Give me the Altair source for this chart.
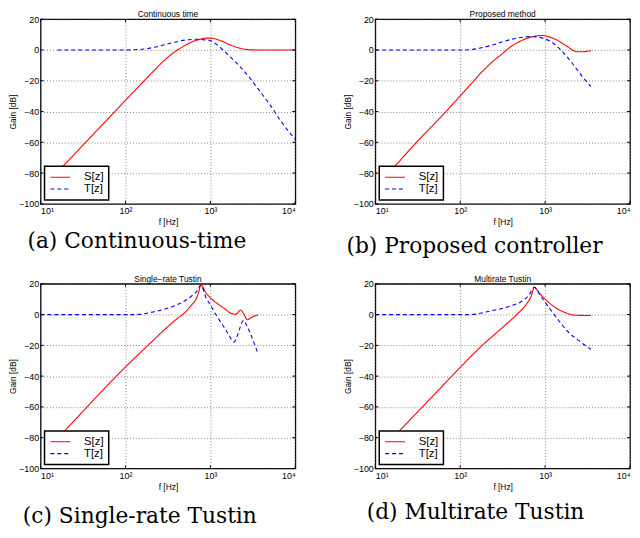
import altair as alt
import pandas as pd

# ---------------- data ----------------
series_names = ["S[z]", "T[z]"]
x_ticks = [10, 100, 1000, 10000]
y_ticks = [-100, -80, -60, -40, -20, 0, 20]

panel_titles = ["Continuous time", "Proposed method", "Single\u2212rate Tustin", "Multirate Tustin"]
panel_captions = ["(a) Continuous-time", "(b) Proposed controller",
                  "(c) Single-rate Tustin", "(d) Multirate Tustin"]

# (a) continuous time
a_S_f = [15.8, 18.4, 34, 75, 100, 166, 230, 287, 340, 410, 500, 585, 750, 900, 1000, 1328, 1730, 2258, 2945, 4000, 10000]
a_S_g = [-79.3, -75.5, -60.0, -40.0, -32.7, -20.0, -11.9, -6.7, -3.2, 0.0, 2.9, 4.9, 6.9, 7.7, 7.7, 6.0, 3.2, 1.1, 0.1, 0.0, 0.0]
a_T_f = [15.8, 100, 117, 184, 250, 343, 535, 700, 875, 1000, 1328, 1730, 2258, 2945, 3843, 5012, 6536, 8532, 10000]
a_T_g = [0, 0, 0.1, 1.0, 2.5, 4.5, 6.6, 7.0, 6.5, 6.0, 1.3, -4.7, -11.1, -18.5, -27.0, -35.5, -45.1, -53.6, -57.9]

# (b) proposed method
b_S_f = [11.0, 16.6, 30, 68, 100, 145, 173, 200, 225, 321, 351, 500, 714, 930, 1100, 1327, 1600, 1890, 2100, 2360, 2820, 3450]
b_S_g = [-85.8, -76.1, -60.5, -40.0, -29.8, -20.0, -15.2, -11.8, -9.0, -1.9, 0.0, 5.5, 8.7, 9.4, 8.6, 7.0, 4.3, 1.7, 0.0, -1.1, -1.1, -0.4]
b_T_f = [10, 116, 173, 250, 322, 547, 714, 930, 1160, 1517, 2066, 2700, 3450]
b_T_g = [0, 0, 1.3, 3.5, 5.5, 8.3, 8.7, 7.7, 5.5, 0.2, -8.3, -16.8, -23.7]

# (c) single-rate Tustin
c_S_f = [11.2, 18.8, 30, 50, 100, 184, 343, 420, 478, 530, 585, 700, 740, 770, 890, 1000, 1217, 1455, 1740, 1988, 2274, 2483, 2716, 3105, 3648]
c_S_g = [-89.0, -76.1, -64.2, -51.1, -34.0, -20.0, -6.0, -2.0, 0.3, 2.8, 5.5, 11.9, 16.0, 19.2, 14.0, 10.9, 7.0, 4.0, 0.9, 0.2, 3.0, 0.2, -3.4, -1.5, -0.2]
c_T_f = [10, 127, 219, 343, 490, 596, 700, 770, 890, 1018, 1217, 1455, 1663, 1900, 2000, 2173, 2376, 2480, 2600, 2972, 3398, 3648]
c_T_g = [0, 0, 1.9, 4.9, 8.7, 11.9, 15.5, 19.2, 10.9, 5.5, -1.9, -8.3, -13.6, -17.9, -16.0, -10.4, -4.5, -3.8, -5.7, -12.6, -21.0, -25.7]

# (d) multirate Tustin
d_S_f = [11.3, 18.9, 30, 50, 100, 173, 322, 459, 598, 684, 747, 853, 1064, 1327, 1730, 2260, 3450]
d_S_g = [-88.5, -76.0, -64.5, -51.7, -34.3, -21.1, -7.9, -0.2, 6.6, 11.9, 17.7, 14.0, 8.7, 4.5, 1.3, -0.4, -0.6]
d_T_f = [10, 133, 207, 384, 547, 653, 747, 891, 1113, 1452, 1890, 2466, 3450]
d_T_g = [0, 0, 1.9, 5.5, 9.1, 13.0, 17.7, 11.9, 4.5, -4.0, -11.5, -16.8, -22.5]

# ---------------- chart ----------------
W, H = 258, 187
TK = 3  # inward tick length
SUP = "datum.value == 10 ? '10\u00b9' : datum.value == 100 ? '10\u00b2' : datum.value == 1000 ? '10\u00b3' : '10\u2074'"
XS = alt.Scale(type="log", domain=[10, 10000], nice=False)
YS = alt.Scale(domain=[-100, 20], nice=False)


def xenc():
    return alt.X("f:Q", title="f [Hz]", scale=XS,
                 axis=alt.Axis(values=x_ticks, labelExpr=SUP, labelPadding=3, titlePadding=2))


def yenc():
    return alt.Y("gain:Q", title="Gain [dB]", scale=YS, axis=alt.Axis(values=y_ticks))


def panel(title, caption, cap_x, cap_y, fS, gS, fT, gT):
    df = pd.concat([
        pd.DataFrame({"f": fS, "gain": gS, "series": series_names[0]}),
        pd.DataFrame({"f": fT, "gain": gT, "series": series_names[1]}),
    ])
    lines = alt.Chart(df).mark_line(strokeWidth=1.1, interpolate="monotone", clip=True).encode(
        x=xenc(),
        y=yenc(),
        color=alt.Color("series:N",
                        scale=alt.Scale(domain=series_names, range=["#ff0000", "#0000ff"]),
                        legend=alt.Legend(title=None)),
        strokeDash=alt.StrokeDash("series:N",
                                  scale=alt.Scale(domain=series_names, range=[[1, 0], [4, 3]]),
                                  legend=alt.Legend(title=None)),
    )
    xt = pd.DataFrame({"f": x_ticks})
    yt = pd.DataFrame({"gain": y_ticks})
    tick_style = dict(color="black", strokeWidth=1)
    xb = alt.Chart(xt).mark_rule(**tick_style).encode(x=xenc(), y=alt.value(H), y2=alt.value(H - TK))
    xtp = alt.Chart(xt).mark_rule(**tick_style).encode(x=xenc(), y=alt.value(0), y2=alt.value(TK))
    yl = alt.Chart(yt).mark_rule(**tick_style).encode(y=yenc(), x=alt.value(0), x2=alt.value(TK))
    yr = alt.Chart(yt).mark_rule(**tick_style).encode(y=yenc(), x=alt.value(W - TK), x2=alt.value(W))
    ttl = alt.Chart(pd.DataFrame({"t": [title]})).mark_text(
        font="Liberation Sans", fontSize=8.5, align="center", baseline="alphabetic", color="black"
    ).encode(text="t:N", x=alt.value(W / 2), y=alt.value(-2))
    cap = alt.Chart(pd.DataFrame({"t": [caption]})).mark_text(
        font="DejaVu Serif", fontSize=22, align="center", baseline="middle", color="black"
    ).encode(text="t:N", x=alt.value(cap_x), y=alt.value(cap_y))
    return alt.layer(lines, xb, xtp, yl, yr, ttl, cap).properties(width=W, height=H)


pa = panel(panel_titles[0], panel_captions[0], 97.5, 225, a_S_f, a_S_g, a_T_f, a_T_g)
pb = panel(panel_titles[1], panel_captions[1], 100.5, 230, b_S_f, b_S_g, b_T_f, b_T_g)
pc = panel(panel_titles[2], panel_captions[2], 100.5, 235, c_S_f, c_S_g, c_T_f, c_T_g)
pd_ = panel(panel_titles[3], panel_captions[3], 101.5, 231, d_S_f, d_S_g, d_T_f, d_T_g)

chart = alt.concat(pa, pb, pc, pd_, columns=2, spacing=81, bounds="flush").resolve_scale(
    color="independent", strokeDash="independent"
).properties(
    padding={"left": 0, "top": -2, "right": 0, "bottom": 0}
).configure_view(
    stroke="black", strokeWidth=1.3
).configure_axis(
    grid=True, gridColor="#666666", gridDash=[1, 2], gridWidth=0.8,
    domain=False, ticks=False,
    labelFont="Liberation Sans", labelFontSize=9, labelColor="black", labelPadding=2,
    titleFont="Liberation Sans", titleFontSize=8.5, titleFontWeight="normal", titleColor="black",
    titlePadding=1,
).configure_legend(
    orient="bottom-left", offset=4, padding=5,
    strokeColor="black", fillColor="white", strokeWidth=1.5,
    symbolType="M-2,0L2,0", symbolSize=100, symbolStrokeWidth=1.1, symbolOffset=5,
    labelFont="Liberation Sans", labelFontSize=11.5, labelColor="black", labelOffset=18,
    rowPadding=0, cornerRadius=0,
)

chart.save("out.html", embed_options={"renderer": "svg", "actions": False})
